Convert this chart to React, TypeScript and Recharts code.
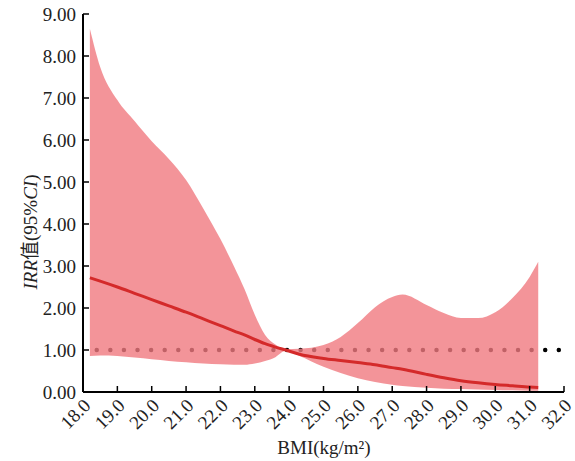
import { ComposedChart, Area, Line, XAxis, YAxis, ReferenceLine } from "recharts";

const bmi = [18.2, 18.5, 19, 19.5, 20, 20.5, 21, 21.5, 22, 22.4, 22.7, 23, 23.3, 23.6, 23.9, 24.3, 25, 25.5, 26, 26.5, 27, 27.3, 28, 28.5, 29, 29.5, 30, 30.5, 31, 31.25];
const irr = [2.72, 2.64, 2.5, 2.35, 2.2, 2.05, 1.9, 1.74, 1.58, 1.45, 1.36, 1.25, 1.15, 1.07, 1.0, 0.9, 0.8, 0.75, 0.7, 0.65, 0.58, 0.54, 0.42, 0.34, 0.27, 0.22, 0.18, 0.15, 0.12, 0.11];
const lower = [0.86, 0.87, 0.86, 0.82, 0.78, 0.74, 0.71, 0.68, 0.66, 0.65, 0.65, 0.68, 0.74, 0.83, 0.98, 0.86, 0.6, 0.45, 0.33, 0.24, 0.17, 0.14, 0.1, 0.08, 0.07, 0.06, 0.05, 0.04, 0.03, 0.03];
const upper = [8.65, 7.74, 6.95, 6.45, 5.97, 5.55, 5.05, 4.37, 3.64, 2.98, 2.45, 1.84, 1.36, 1.13, 1.02, 1.03, 1.12, 1.31, 1.64, 2.02, 2.26, 2.32, 2.07, 1.88, 1.76, 1.76, 1.9, 2.24, 2.74, 3.1];

const xTicks = [18, 19, 20, 21, 22, 23, 24, 25, 26, 27, 28, 29, 30, 31, 32];
const yTicks = [0, 1, 2, 3, 4, 5, 6, 7, 8, 9];

const FONT = "'Liberation Serif', 'Noto Sans CJK SC', serif";

const data = bmi.map((b, i) => ({
  bmi: b,
  irr: irr[i],
  band: [lower[i], upper[i]],
}));

const XTick = ({ x, y, payload }: any) => {
  const px = x + 4;
  const py = y + 4;
  return (
    <text
      x={px}
      y={py}
      transform={`rotate(-45, ${px}, ${py})`}
      textAnchor="end"
      dy="0.35em"
      fill="#222"
      fontSize={19}
      fontFamily={FONT}
    >
      {payload.value.toFixed(1)}
    </text>
  );
};

const YLabel = () => (
  <text
    x={30}
    y={232}
    transform="rotate(-90, 30, 232)"
    textAnchor="middle"
    dy="0.35em"
    fill="#222"
    fontSize={19}
    fontFamily={FONT}
  >
    <tspan fontStyle="italic">IRR</tspan>值(95%<tspan fontStyle="italic">CI</tspan>)
  </text>
);

const XLabel = () => (
  <text
    x={324}
    y={447}
    textAnchor="middle"
    dy="0.35em"
    fill="#222"
    fontSize={19}
    fontFamily={FONT}
  >
    BMI(kg/m²)
  </text>
);

export default function App() {
  return (
    <div style={{ position: "absolute", left: 0, top: 0, background: "#fff" }}>
      <ComposedChart
        width={575}
        height={461}
        data={data}
        margin={{ top: 14, right: 11, left: 0, bottom: 0 }}
      >
        <XAxis
          type="number"
          dataKey="bmi"
          domain={[18, 32]}
          ticks={xTicks}
          height={69}
          axisLine={{ stroke: "#000", strokeWidth: 2 }}
          tickLine={{ stroke: "#000", strokeWidth: 1.5 }}
          tickSize={-6}
          tickMargin={12}
          tick={<XTick />}
          interval={0}
          label={<XLabel />}
        />
        <YAxis
          type="number"
          domain={[0, 9]}
          ticks={yTicks}
          width={83}
          axisLine={{ stroke: "#000", strokeWidth: 2 }}
          tickLine={{ stroke: "#000", strokeWidth: 1.5 }}
          tickSize={-6}
          tickMargin={13}
          tickFormatter={(v: number) => v.toFixed(2)}
          tick={{ fill: "#222", fontSize: 19, fontFamily: FONT }}
          interval={0}
          label={<YLabel />}
        />
        <ReferenceLine
          segment={[{ x: 18.4, y: 1 }, { x: 32, y: 1 }]}
          stroke="#000"
          strokeWidth={4.5}
          strokeDasharray="0 13.59"
          strokeLinecap="round"
          zIndex={50}
        />
        <Area
          type="monotone"
          dataKey="band"
          stroke="none"
          fill="#f0797f"
          fillOpacity={0.8}
          isAnimationActive={false}
        />
        <Line
          type="monotone"
          dataKey="irr"
          stroke="#d42a2a"
          strokeWidth={3}
          dot={false}
          isAnimationActive={false}
        />
      </ComposedChart>
    </div>
  );
}
